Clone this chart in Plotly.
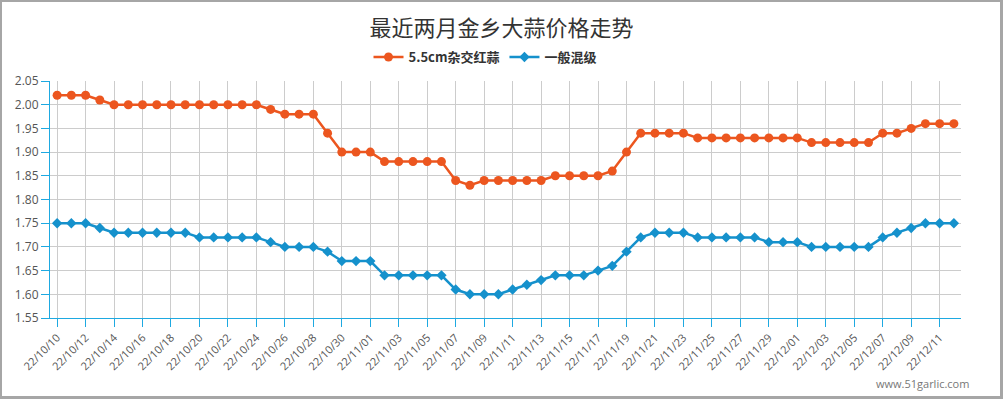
import plotly.graph_objects as go

dates = [
    "22/10/10", "22/10/11", "22/10/12", "22/10/13", "22/10/14", "22/10/15", "22/10/16", "22/10/17",
    "22/10/18", "22/10/19", "22/10/20", "22/10/21", "22/10/22", "22/10/23", "22/10/24", "22/10/25",
    "22/10/26", "22/10/27", "22/10/28", "22/10/29", "22/10/30", "22/10/31", "22/11/01", "22/11/02",
    "22/11/03", "22/11/04", "22/11/05", "22/11/06", "22/11/07", "22/11/08", "22/11/09", "22/11/10",
    "22/11/11", "22/11/12", "22/11/13", "22/11/14", "22/11/15", "22/11/16", "22/11/17", "22/11/18",
    "22/11/19", "22/11/20", "22/11/21", "22/11/22", "22/11/23", "22/11/24", "22/11/25", "22/11/26",
    "22/11/27", "22/11/28", "22/11/29", "22/11/30", "22/12/01", "22/12/02", "22/12/03", "22/12/04",
    "22/12/05", "22/12/06", "22/12/07", "22/12/08", "22/12/09", "22/12/10", "22/12/11", "22/12/12",
]

hybrid_red = [
    2.02, 2.02, 2.02, 2.01, 2.00, 2.00, 2.00, 2.00,
    2.00, 2.00, 2.00, 2.00, 2.00, 2.00, 2.00, 1.99,
    1.98, 1.98, 1.98, 1.94, 1.90, 1.90, 1.90, 1.88,
    1.88, 1.88, 1.88, 1.88, 1.84, 1.83, 1.84, 1.84,
    1.84, 1.84, 1.84, 1.85, 1.85, 1.85, 1.85, 1.86,
    1.90, 1.94, 1.94, 1.94, 1.94, 1.93, 1.93, 1.93,
    1.93, 1.93, 1.93, 1.93, 1.93, 1.92, 1.92, 1.92,
    1.92, 1.92, 1.94, 1.94, 1.95, 1.96, 1.96, 1.96,
]

general_mix = [
    1.75, 1.75, 1.75, 1.74, 1.73, 1.73, 1.73, 1.73,
    1.73, 1.73, 1.72, 1.72, 1.72, 1.72, 1.72, 1.71,
    1.70, 1.70, 1.70, 1.69, 1.67, 1.67, 1.67, 1.64,
    1.64, 1.64, 1.64, 1.64, 1.61, 1.60, 1.60, 1.60,
    1.61, 1.62, 1.63, 1.64, 1.64, 1.64, 1.65, 1.66,
    1.69, 1.72, 1.73, 1.73, 1.73, 1.72, 1.72, 1.72,
    1.72, 1.72, 1.71, 1.71, 1.71, 1.70, 1.70, 1.70,
    1.70, 1.70, 1.72, 1.73, 1.74, 1.75, 1.75, 1.75,
]

series_names = ["5.5cm杂交红蒜", "一般混级"]
tick_labels = dates[::2]

ORANGE = "#ec561f"
BLUE = "#1591cc"
AXIS = "#1ea9e1"
W, H = 1003, 399
L, R, T, B = 50, 42, 81, 81
PW, PH = W - L - R, H - T - B


def px_x(px):
    return (px - L) / PW


def px_y(py):
    return (H - B - py) / PH


fig = go.Figure()
fig.add_trace(go.Scatter(
    x=dates, y=hybrid_red, name=series_names[0], mode="lines+markers",
    line=dict(color=ORANGE, width=2.5),
    marker=dict(symbol="circle", size=9, color=ORANGE),
))
fig.add_trace(go.Scatter(
    x=dates, y=general_mix, name=series_names[1], mode="lines+markers",
    line=dict(color=BLUE, width=2.5),
    marker=dict(symbol="diamond", size=8, color=BLUE),
))

border = "#a6a6a6"
shapes = [
    dict(type="rect", xref="paper", yref="paper", x0=px_x(0), x1=px_x(2), y0=px_y(0), y1=px_y(H),
         fillcolor=border, line=dict(width=0)),
    dict(type="rect", xref="paper", yref="paper", x0=px_x(W - 3), x1=px_x(W), y0=px_y(0), y1=px_y(H),
         fillcolor=border, line=dict(width=0)),
    dict(type="rect", xref="paper", yref="paper", x0=px_x(0), x1=px_x(W), y0=px_y(0), y1=px_y(2),
         fillcolor=border, line=dict(width=0)),
    dict(type="rect", xref="paper", yref="paper", x0=px_x(0), x1=px_x(W), y0=px_y(H - 3), y1=px_y(H),
         fillcolor=border, line=dict(width=0)),
]

fig.update_layout(
    width=W, height=H,
    margin=dict(l=L, r=R, t=T, b=B, autoexpand=False),
    paper_bgcolor="white", plot_bgcolor="white",
    font=dict(family="Open Sans, Noto Sans CJK SC", color="#555", size=12),
    title=dict(
        text="最近两月金乡大蒜价格走势",
        x=0.5, xref="container", xanchor="center",
        y=1 - 28 / H, yref="container", yanchor="middle",
        font=dict(family="Noto Sans CJK SC", size=22, color="#333"),
    ),
    legend=dict(
        orientation="h", x=px_x(485), xanchor="center", y=px_y(57), yanchor="middle",
        font=dict(family="Noto Sans CJK SC", size=13, color="#333", weight="bold"),
        itemwidth=30, tracegroupgap=0,
    ),
    showlegend=True,
    shapes=shapes,
    xaxis=dict(
        type="category", categoryorder="array", categoryarray=dates,
        range=[-0.5, len(dates) - 0.5], automargin=False,
        tickmode="array", tickvals=tick_labels, ticktext=tick_labels,
        tickangle=-45, ticks="outside", ticklen=8, tickcolor=AXIS, tickwidth=1,
        showline=True, linecolor=AXIS, linewidth=1,
        showgrid=True, gridcolor="#cccccc", gridwidth=1,
        tickfont=dict(family="Open Sans", size=11, color="#555"),
        zeroline=False,
    ),
    yaxis=dict(
        range=[1.55, 2.05], dtick=0.05, tick0=1.55, tickformat=".2f", automargin=False,
        ticks="outside", ticklen=8, tickcolor=AXIS, tickwidth=1,
        showline=True, linecolor=AXIS, linewidth=1,
        showgrid=True, gridcolor="#cccccc", gridwidth=1,
        tickfont=dict(family="Open Sans", size=12, color="#555"),
        zeroline=False,
    ),
    annotations=[dict(
        text="www.51garlic.com", xref="paper", yref="paper",
        x=px_x(971), y=px_y(383), xanchor="right", yanchor="middle",
        showarrow=False, font=dict(family="Open Sans", size=11, color="#777"),
    )],
)

fig.write_html("out.html", config={"displayModeBar": False},
               post_script="document.body.style.margin='0';")
